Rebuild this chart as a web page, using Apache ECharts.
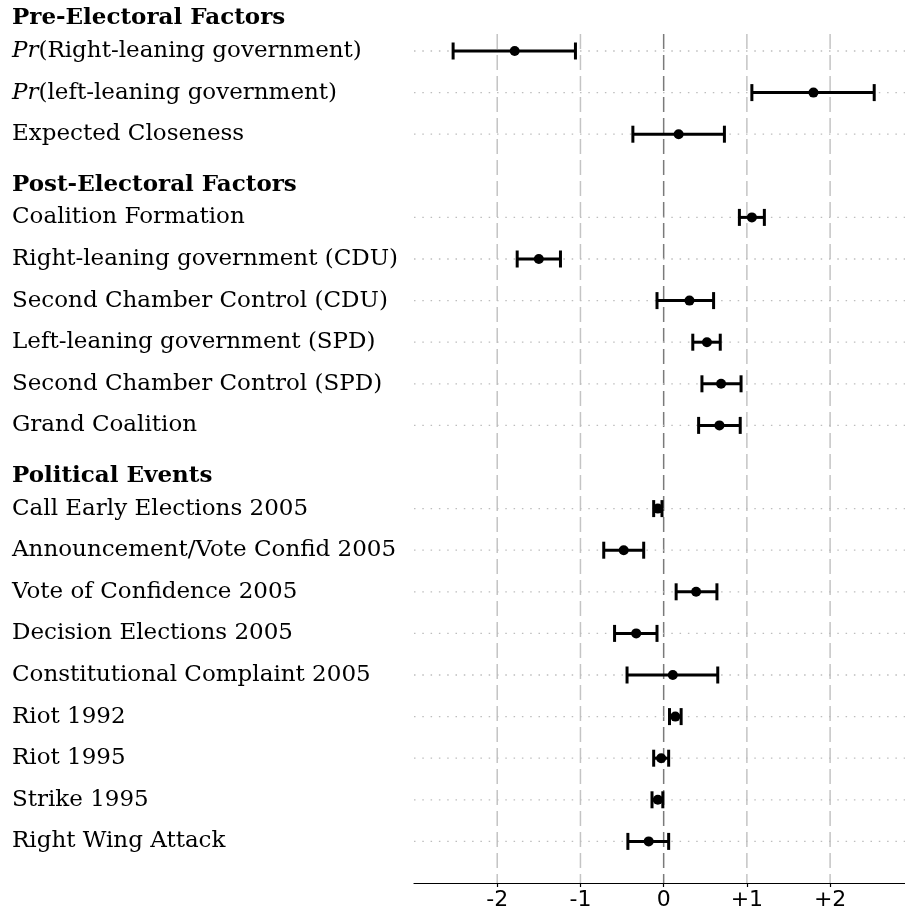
<!DOCTYPE html>
<html>
<head>
<meta charset="utf-8">
<script src="https://cdn.jsdelivr.net/npm/echarts@6/dist/echarts.min.js"></script>
<style>
html,body{margin:0;padding:0;background:#fff;}
#chart{width:905px;height:920px;}
</style>
</head>
<body>
<div id="chart"></div>
<script>
// ---- data ----
const groupTitles = ['Pre-Electoral Factors', 'Post-Electoral Factors', 'Political Events'];
const groupRows = [
  ['Pr(Right-leaning government)', 'Pr(left-leaning government)', 'Expected Closeness'],
  ['Coalition Formation', 'Right-leaning government (CDU)', 'Second Chamber Control (CDU)',
   'Left-leaning government (SPD)', 'Second Chamber Control (SPD)', 'Grand Coalition'],
  ['Call Early Elections 2005', 'Announcement/Vote Confid 2005', 'Vote of Confidence 2005',
   'Decision Elections 2005', 'Constitutional Complaint 2005', 'Riot 1992', 'Riot 1995',
   'Strike 1995', 'Right Wing Attack']
];
const estimates = [
  [-1.79, 1.80, 0.18],
  [1.06, -1.50, 0.31, 0.52, 0.69, 0.67],
  [-0.07, -0.48, 0.39, -0.33, 0.11, 0.14, -0.03, -0.07, -0.18]
];
const lowers = [
  [-2.53, 1.06, -0.37],
  [0.91, -1.76, -0.08, 0.35, 0.46, 0.42],
  [-0.12, -0.72, 0.15, -0.59, -0.44, 0.07, -0.12, -0.14, -0.43]
];
const uppers = [
  [-1.06, 2.53, 0.73],
  [1.21, -1.24, 0.60, 0.68, 0.93, 0.92],
  [-0.02, -0.24, 0.64, -0.08, 0.65, 0.21, 0.06, -0.01, 0.06]
];
const xTickValues = [-2, -1, 0, 1, 2];
const italicPrefix = 'Pr';

// ---- build categories (headers + rows + blank bottom slot) ----
const categories = [];
const pointData = [];
const barData = [];
const rowLineData = [];
groupTitles.forEach(function (t, g) {
  categories.push(t);
  groupRows[g].forEach(function (name, i) {
    const idx = categories.length;
    categories.push(name);
    pointData.push([estimates[g][i], idx]);
    barData.push([lowers[g][i], uppers[g][i], idx]);
    rowLineData.push([0, idx]);
  });
});
categories.push(' ');
const nCat = categories.length;

function labelFmt(v) {
  if (groupTitles.indexOf(v) >= 0) return '{h|' + v + '}';
  if (v.indexOf(italicPrefix + '(') === 0) return '{i|' + italicPrefix + '}{n|' + v.slice(italicPrefix.length) + '}';
  return '{n|' + v + '}';
}

const chart = echarts.init(document.getElementById('chart'), null, {renderer: 'canvas'});
const SERIF = 'DejaVu Serif';
chart.setOption({
  animation: false,
  backgroundColor: '#fff',
  grid: {left: 414, right: 0, top: 9.4, bottom: 37, containLabel: false},
  xAxis: {
    type: 'value', min: -3, max: 2.9, interval: 1,
    axisLine: {show: true, lineStyle: {color: '#000', width: 1.2}},
    axisTick: {show: true, customValues: xTickValues, length: 4, lineStyle: {color: '#000', width: 1.2}},
    axisLabel: {
      customValues: xTickValues, color: '#000', fontFamily: 'DejaVu Sans', fontSize: 22, margin: 6,
      formatter: function (v) { return v > 0 ? '+' + v : String(v); }
    },
    splitLine: {show: false}
  },
  yAxis: {
    type: 'category', inverse: true, boundaryGap: false, data: categories,
    axisLine: {show: false}, axisTick: {show: false}, splitLine: {show: false},
    axisLabel: {
      interval: 0, margin: 402, align: 'left', formatter: labelFmt,
      rich: {
        n: {fontFamily: SERIF, fontSize: 23, color: '#000'},
        i: {fontFamily: SERIF, fontSize: 23, color: '#000', fontStyle: 'italic'},
        h: {fontFamily: SERIF, fontSize: 23, color: '#000', fontWeight: 'bold', padding: [18, 0, 0, 0]}
      }
    }
  },
  series: [
    {
      type: 'custom', silent: true, z: 1,
      data: xTickValues.map(function (v) { return [v, 0]; }),
      renderItem: function (params, api) {
        const v = api.value(0);
        const p0 = api.coord([v, 0]);
        const p1 = api.coord([v, 1]);
        const pe = api.coord([v, nCat - 1]);
        const top = p0[1] + 0.59 * (p1[1] - p0[1]);
        return {
          type: 'line',
          shape: {x1: p0[0], y1: top, x2: p0[0], y2: pe[1]},
          style: {stroke: v === 0 ? '#7a7a7a' : '#c4c4c4', lineWidth: 1.5, lineDash: [15, 6]}
        };
      }
    },
    {
      type: 'custom', silent: true, z: 2,
      data: rowLineData,
      renderItem: function (params, api) {
        const cs = params.coordSys;
        const p = api.coord([0, api.value(1)]);
        return {
          type: 'line',
          shape: {x1: cs.x, y1: p[1], x2: cs.x + cs.width, y2: p[1]},
          style: {stroke: '#bdbdbd', lineWidth: 1.3, lineDash: [1.5, 6.8]}
        };
      }
    },
    {
      type: 'custom', silent: true, z: 3,
      encode: {x: [0, 1], y: 2},
      data: barData,
      renderItem: function (params, api) {
        const a = api.coord([api.value(0), api.value(2)]);
        const b = api.coord([api.value(1), api.value(2)]);
        const h = 8.5;
        const st = {stroke: '#000', lineWidth: 3};
        return {
          type: 'group',
          children: [
            {type: 'line', shape: {x1: a[0], y1: a[1], x2: b[0], y2: b[1]}, style: st},
            {type: 'line', shape: {x1: a[0], y1: a[1] - h, x2: a[0], y2: a[1] + h}, style: st},
            {type: 'line', shape: {x1: b[0], y1: b[1] - h, x2: b[0], y2: b[1] + h}, style: st}
          ]
        };
      }
    },
    {
      type: 'scatter', z: 4, silent: true,
      symbol: 'circle', symbolSize: 10,
      itemStyle: {color: '#000', opacity: 1},
      data: pointData
    }
  ]
});
</script>
</body>
</html>
